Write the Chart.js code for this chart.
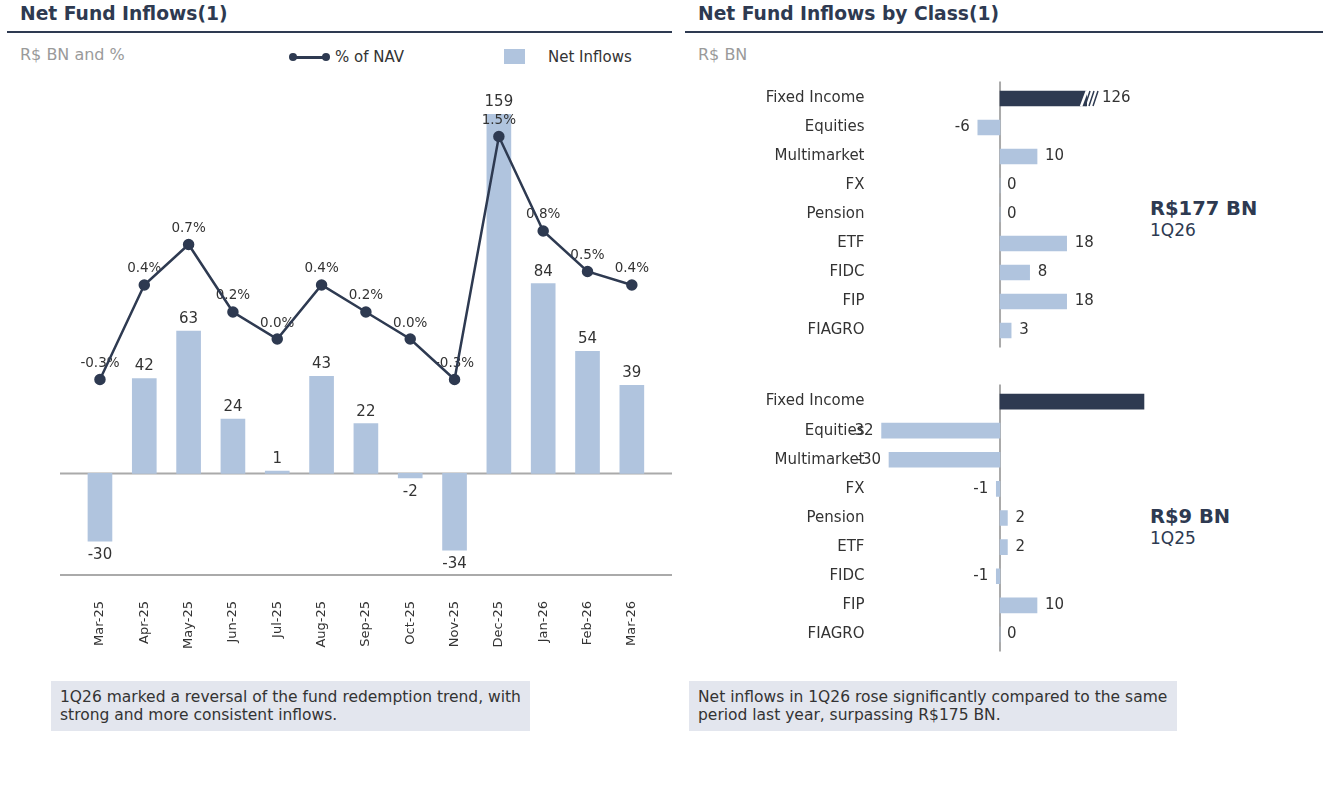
<!DOCTYPE html>
<html>
<head>
<meta charset="utf-8">
<script src="https://cdn.jsdelivr.net/npm/chart.js@4.4.0/dist/chart.umd.min.js"></script>
<style>
  body { margin: 0; width: 1330px; height: 798px; position: relative; background: #fff; font-family: "DejaVu Sans", sans-serif; color: #333; overflow: hidden; }
  .title { position: absolute; top: 3px; font-size: 18.7px; line-height: 22px; font-weight: bold; color: #2e3a51; }
  .rule { position: absolute; top: 31px; height: 2px; background: #2e3a51; }
  .sub { position: absolute; top: 45px; font-size: 16px; line-height: 20px; color: #9a9a9a; }
  .leg { position: absolute; top: 48px; font-size: 15px; line-height: 18px; color: #333; }
  .note { position: absolute; top: 681px; height: 50px; background: #e3e6ee; font-size: 15.5px; line-height: 18px; padding: 7px 9px; box-sizing: border-box; color: #333; white-space: nowrap; }
  .big { position: absolute; font-size: 19.5px; line-height: 22px; font-weight: bold; color: #2e3a51; }
  .q { position: absolute; font-size: 17px; line-height: 20px; color: #2e3a51; }
  canvas { position: absolute; }
</style>
</head>
<body>
<div class="title" style="left:20px">Net Fund Inflows(1)</div>
<div class="rule" style="left:7px; width:665px"></div>
<div class="sub" style="left:20px">R$ BN and %</div>

<div style="position:absolute; left:293px; top:56px; width:33px; height:2.5px; background:#2e3a51"></div>
<div style="position:absolute; left:289px; top:53px; width:8px; height:8px; border-radius:4px; background:#2e3a51"></div>
<div style="position:absolute; left:322px; top:53px; width:8px; height:8px; border-radius:4px; background:#2e3a51"></div>
<div class="leg" style="left:335px">% of NAV</div>
<div style="position:absolute; left:504px; top:49px; width:21px; height:15px; background:#b0c4de"></div>
<div class="leg" style="left:548px">Net Inflows</div>

<div class="title" style="left:698px">Net Fund Inflows by Class(1)</div>
<div class="rule" style="left:685px; width:638px"></div>
<div class="sub" style="left:698px">R$ BN</div>

<div class="big" style="left:1150px; top:198px">R$177 BN</div>
<div class="q" style="left:1150px; top:220px">1Q26</div>
<div class="big" style="left:1150px; top:506px">R$9 BN</div>
<div class="q" style="left:1150px; top:528px">1Q25</div>

<canvas id="monthly" width="690" height="580" style="left:0; top:80px"></canvas>
<canvas id="class26" width="640" height="291" style="left:690px; top:69px"></canvas>
<canvas id="class25" width="640" height="292" style="left:690px; top:372px"></canvas>

<div class="note" style="left:51px; width:479px">1Q26 marked a reversal of the fund redemption trend, with<br>strong and more consistent inflows.</div>
<div class="note" style="left:689px; width:488px">Net inflows in 1Q26 rose significantly compared to the same<br>period last year, surpassing R$175 BN.</div>

<script>
var months = ['Mar-25', 'Apr-25', 'May-25', 'Jun-25', 'Jul-25', 'Aug-25', 'Sep-25', 'Oct-25', 'Nov-25', 'Dec-25', 'Jan-26', 'Feb-26', 'Mar-26'];
var netInflows = [-30, 42, 63, 24, 1, 43, 22, -2, -34, 159, 84, 54, 39];
var navPct = [-0.3, 0.4, 0.7, 0.2, 0.0, 0.4, 0.2, 0.0, -0.3, 1.5, 0.8, 0.5, 0.4];

var classes = ['Fixed Income', 'Equities', 'Multimarket', 'FX', 'Pension', 'ETF', 'FIDC', 'FIP', 'FIAGRO'];
var inflows1Q26 = [126, -6, 10, 0, 0, 18, 8, 18, 3];
var inflows1Q25 = [59, -32, -30, -1, 2, 2, -1, 10, 0];

var navy = '#2e3a51';
var light = '#b0c4de';
var font = '"DejaVu Sans", sans-serif';

// labels + extended axis lines for the monthly chart
var monthlyMarks = {
  id: 'monthlyMarks',
  beforeDatasetsDraw: function(chart) {
    var ctx = chart.ctx, area = chart.chartArea;
    var y0 = chart.scales.y.getPixelForValue(0);
    ctx.save();
    ctx.strokeStyle = '#aaaaaa';
    ctx.lineWidth = 2;
    [y0, area.bottom].forEach(function(y) {
      ctx.beginPath();
      ctx.moveTo(60, y);
      ctx.lineTo(672, y);
      ctx.stroke();
    });
    ctx.restore();
  },
  afterDatasetDraw: function(chart, args) {
    if (args.index !== 0) return;
    var ctx = chart.ctx;
    var bars = chart.getDatasetMeta(0).data;
    var pts = chart.getDatasetMeta(1).data;
    ctx.save();
    ctx.fillStyle = '#333';
    ctx.textAlign = 'center';
    ctx.textBaseline = 'middle';
    ctx.font = '15px ' + font;
    bars.forEach(function(b, i) {
      var v = netInflows[i];
      ctx.fillText(String(v), b.x, v >= 0 ? b.y - 12 : b.y + 14);
    });
    ctx.font = '13.5px ' + font;
    pts.forEach(function(p, i) {
      ctx.fillText(navPct[i].toFixed(1) + '%', p.x, p.y - 16);
    });
    ctx.restore();
  }
};

new Chart(document.getElementById('monthly'), {
  type: 'bar',
  data: {
    labels: months,
    datasets: [{
      type: 'bar',
      data: netInflows,
      backgroundColor: light,
      barThickness: 24,
      yAxisID: 'y',
      order: 1
    }, {
      type: 'line',
      data: navPct,
      borderColor: navy,
      backgroundColor: navy,
      borderWidth: 2.5,
      pointRadius: 4.5,
      pointBackgroundColor: navy,
      tension: 0,
      yAxisID: 'y1',
      order: 0
    }]
  },
  options: {
    responsive: false,
    animation: false,
    layout: { padding: { left: 77.8, right: 36, top: 9.5, bottom: 0 } },
    plugins: { legend: { display: false }, tooltip: { enabled: false } },
    scales: {
      x: {
        grid: { display: false, drawTicks: false },
        border: { display: false },
        ticks: { color: '#333', font: { size: 13, family: font }, minRotation: 90, maxRotation: 90, autoSkip: false, padding: 26 },
        afterFit: function(s) { s.height = 85; }
      },
      y: { display: false, min: -45, max: 170 },
      y1: { display: false, min: -1.748, max: 1.848 }
    }
  },
  plugins: [monthlyMarks]
});

// zero line, value labels and break mark for the class charts
var classMarks = {
  id: 'classMarks',
  beforeDatasetsDraw: function(chart) {
    var ctx = chart.ctx, area = chart.chartArea;
    var x0 = chart.scales.x.getPixelForValue(0);
    ctx.save();
    ctx.strokeStyle = '#aaaaaa';
    ctx.lineWidth = 2;
    ctx.beginPath();
    ctx.moveTo(x0, area.top - 2.5);
    ctx.lineTo(x0, area.bottom + 2.5);
    ctx.stroke();
    ctx.restore();
  },
  afterDatasetsDraw: function(chart, args, opts) {
    var ctx = chart.ctx, area = chart.chartArea;
    var values = chart.data.datasets[0].data;
    var max = chart.scales.x.max;
    ctx.save();
    ctx.font = '15px ' + font;
    ctx.fillStyle = '#333';
    ctx.textBaseline = 'middle';
    chart.getDatasetMeta(0).data.forEach(function(b, i) {
      var v = values[i];
      if (v > max) {
        if (!opts.breakMark) return;
        var r = area.right, y = b.y;
        ctx.strokeStyle = '#fff';
        ctx.lineWidth = 2.5;
        ctx.beginPath(); ctx.moveTo(r - 6, y + 8); ctx.lineTo(r, y - 8); ctx.stroke();
        ctx.strokeStyle = navy;
        ctx.lineWidth = 1.5;
        for (var k = 0; k < 3; k++) {
          ctx.beginPath();
          ctx.moveTo(r - 2 + k * 4, y + 7.5);
          ctx.lineTo(r + 3 + k * 4, y - 7.5);
          ctx.stroke();
        }
        ctx.textAlign = 'left';
        ctx.fillText(String(v), r + 15, y);
      } else if (v < 0) {
        ctx.textAlign = 'right';
        ctx.fillText(String(v), b.x - 8, b.y);
      } else {
        ctx.textAlign = 'left';
        ctx.fillText(String(v), v === 0 ? b.x + 7 : b.x + 8, b.y);
      }
    });
    ctx.restore();
  }
};

function classChart(id, values, max, padding, breakMark) {
  new Chart(document.getElementById(id), {
    type: 'bar',
    data: {
      labels: classes,
      datasets: [{
        data: values,
        backgroundColor: values.map(function(v, i) { return i === 0 ? navy : light; }),
        barThickness: 15
      }]
    },
    options: {
      indexAxis: 'y',
      responsive: false,
      animation: false,
      layout: { padding: padding },
      plugins: { legend: { display: false }, tooltip: { enabled: false }, classMarks: { breakMark: breakMark } },
      scales: {
        x: { display: false, min: -35, max: max },
        y: {
          grid: { display: false, drawTicks: false },
          border: { display: false },
          ticks: { color: '#333', padding: 6, font: { size: 15, family: font } },
          afterFit: function(s) { s.width = 180.5; }
        }
      }
    },
    plugins: [classMarks]
  });
}

classChart('class26', inflows1Q26, 23.5, { left: 0, right: 243, top: 2.4, bottom: 5.7 }, true);
classChart('class25', inflows1Q25, 39, { left: 0, right: 185.7, top: 6.5, bottom: 7.5 }, false);
</script>
</body>
</html>
